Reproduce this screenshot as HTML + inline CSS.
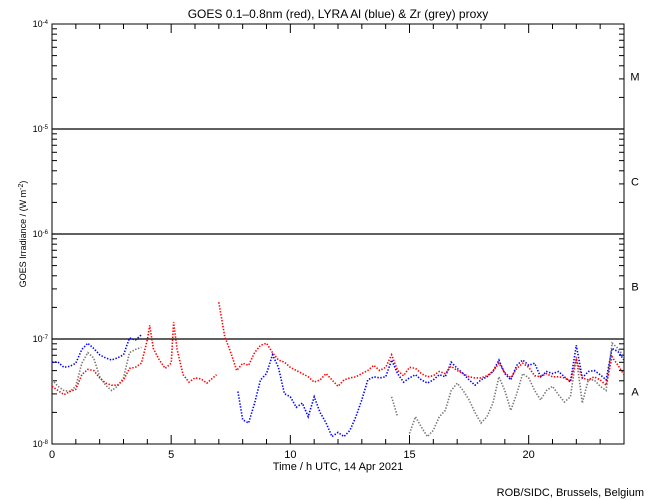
<!DOCTYPE html>
<html><head><meta charset="utf-8"><style>
body{margin:0;background:#fff}
svg{display:block;font-family:"Liberation Sans",sans-serif}
</style></head><body>
<svg id="chart" width="650" height="500" viewBox="0 0 650 500">
<rect x="0" y="0" width="650" height="500" fill="#fff"/>
<text x="338" y="18" font-size="12" text-anchor="middle">GOES 0.1–0.8nm (red), LYRA Al (blue) &amp; Zr (grey) proxy</text>
<text x="338" y="470" font-size="11" text-anchor="middle">Time / h UTC, 14 Apr 2021</text>
<text x="644" y="496" font-size="11" text-anchor="end">ROB/SIDC, Brussels, Belgium</text>
<text x="0" y="0" font-size="9" text-anchor="middle" transform="translate(26,234) rotate(-90)">GOES Irradiance / (W m<tspan baseline-shift="super" font-size="7">-2</tspan>)</text>
<g id="axes"></g>
<g id="series"></g>
</svg>
<script>
const redT=[0,0.25,0.5,0.75,1,1.25,1.5,1.75,2,2.25,2.5,2.75,3,3.25,3.5,3.75,4,4.1,4.25,4.5,4.75,5,5.1,5.25,5.5,5.75,6,6.25,6.5,6.75,6.9,6.95,7.0,7.25,7.5,7.75,8,8.25,8.5,8.75,9,9.25,9.5,9.75,10,10.25,10.5,10.75,11,11.25,11.5,11.75,12,12.25,12.5,12.75,13,13.25,13.5,13.75,14,14.25,14.5,14.75,15,15.25,15.5,15.75,16,16.25,16.5,16.75,17,17.25,17.5,17.75,18,18.25,18.5,18.75,19,19.25,19.5,19.75,20,20.25,20.5,20.75,21,21.25,21.5,21.75,22,22.25,22.5,22.75,23,23.25,23.5,23.75,24];
const redV=[-7.45,-7.49,-7.53,-7.50,-7.48,-7.34,-7.29,-7.30,-7.37,-7.42,-7.44,-7.44,-7.39,-7.28,-7.27,-7.23,-7.01,-6.87,-7.09,-7.20,-7.28,-7.23,-6.84,-7.10,-7.34,-7.41,-7.37,-7.38,-7.42,-7.37,-7.34,null,-6.65,-6.98,-7.13,-7.30,-7.23,-7.25,-7.13,-7.06,-7.04,-7.13,-7.20,-7.22,-7.27,-7.30,-7.33,-7.36,-7.41,-7.39,-7.33,-7.39,-7.45,-7.39,-7.37,-7.36,-7.33,-7.30,-7.25,-7.30,-7.27,-7.15,-7.30,-7.35,-7.27,-7.28,-7.33,-7.36,-7.35,-7.31,-7.33,-7.26,-7.30,-7.33,-7.36,-7.37,-7.37,-7.35,-7.31,-7.23,-7.32,-7.37,-7.28,-7.23,-7.27,-7.35,-7.36,-7.33,-7.36,-7.36,-7.37,-7.40,-7.20,-7.37,-7.39,-7.36,-7.39,-7.44,-7.17,-7.25,-7.34];
const blueT=[0,0.25,0.5,0.75,1,1.25,1.5,1.75,2,2.25,2.5,2.75,3,3.25,3.5,3.75,4,7.75,7.8,8,8.25,8.5,8.75,9,9.25,9.5,9.75,10,10.25,10.5,10.75,11,11.25,11.5,11.75,12,12.25,12.5,12.75,13,13.25,13.5,13.75,14,14.25,14.5,14.75,15,15.25,15.5,15.75,16,16.25,16.5,16.75,17,17.25,17.5,17.75,18,18.25,18.5,18.75,19,19.25,19.5,19.75,20,20.25,20.5,20.75,21,21.25,21.5,21.75,22,22.25,22.5,22.75,23,23.25,23.5,23.75,24];
const blueV=[-7.22,-7.22,-7.27,-7.26,-7.23,-7.10,-7.04,-7.09,-7.15,-7.18,-7.20,-7.18,-7.15,-6.99,-7.01,-6.96,null,null,-7.50,-7.77,-7.80,-7.61,-7.39,-7.33,-7.15,-7.27,-7.52,-7.55,-7.65,-7.61,-7.74,-7.55,-7.70,-7.80,-7.93,-7.89,-7.93,-7.87,-7.74,-7.58,-7.39,-7.36,-7.37,-7.36,-7.20,-7.33,-7.41,-7.37,-7.34,-7.39,-7.42,-7.39,-7.34,-7.36,-7.22,-7.28,-7.33,-7.39,-7.44,-7.39,-7.36,-7.31,-7.20,-7.33,-7.39,-7.25,-7.20,-7.25,-7.23,-7.36,-7.31,-7.33,-7.31,-7.36,-7.41,-7.06,-7.37,-7.31,-7.30,-7.34,-7.39,-7.09,-7.12,-7.20];
const greyT=[0,0.25,0.5,0.75,1,1.25,1.5,1.75,2,2.25,2.5,2.75,3,3.25,3.5,3.75,4,14,14.25,14.5,14.75,15,15.25,15.5,15.75,16,16.25,16.5,16.75,17,17.25,17.5,17.75,18,18.25,18.5,18.75,19,19.25,19.5,19.75,20,20.25,20.5,20.75,21,21.25,21.5,21.75,22,22.25,22.5,22.75,23,23.25,23.5,23.75,24];
const greyV=[-7.39,-7.45,-7.49,-7.50,-7.45,-7.23,-7.13,-7.18,-7.36,-7.44,-7.49,-7.45,-7.37,-7.13,-7.10,-7.08,null,null,-7.55,-7.74,null,-7.90,-7.74,-7.84,-7.93,-7.87,-7.74,-7.68,-7.49,-7.42,-7.49,-7.58,-7.70,-7.80,-7.74,-7.61,-7.36,-7.49,-7.68,-7.52,-7.33,-7.37,-7.49,-7.58,-7.49,-7.45,-7.53,-7.60,-7.55,-7.17,-7.61,-7.39,-7.39,-7.45,-7.49,-7.04,-7.09,-7.17];
const xTicks=[0,5,10,15,20];
const decades=[-8,-7,-6,-5,-4];
const classes=["A","B","C","M"];

const NS="http://www.w3.org/2000/svg";
const L=52,R=624,T=24,B=444;
const xs=t=>L+(R-L)*t/24;
const ys=v=>B-(B-T)*(v+8)/4;
function mk(tag,attrs,parent){const e=document.createElementNS(NS,tag);for(const k in attrs)e.setAttribute(k,attrs[k]);parent.appendChild(e);return e;}
const ax=document.getElementById('axes'), sg=document.getElementById('series');
const frame=mk('rect',{x:L,y:T,width:R-L,height:B-T,fill:'none',stroke:'#000','stroke-width':1},ax);


for(let h=0;h<=24;h++){
  const len=h%5===0?9:5;
  const t1=mk('line',{x1:xs(h),x2:xs(h),y1:B,y2:B-len,stroke:'#000'},ax);
  
  
  const t2=mk('line',{x1:xs(h),x2:xs(h),y1:T,y2:T+len,stroke:'#000'},ax);
  
  
}
xTicks.forEach(v=>{const t=mk('text',{x:xs(v),y:B+14,'font-size':11,'text-anchor':'middle'},ax);t.textContent=v;
  
  });
decades.forEach(d=>{
  const y=ys(d);
  const lab=mk('text',{x:L-4,y:y+3,'font-size':9,'text-anchor':'end'},ax);
  lab.innerHTML='10<tspan baseline-shift="super" font-size="6">'+d+'</tspan>';
  
  
  if(d>-8&&d<-4){const gl=mk('line',{x1:L,x2:R,y1:y,y2:y,stroke:'#000','stroke-width':1.3},ax);
    
    }
  if(d<-4)for(let k=2;k<=9;k++){const yy=ys(d+Math.log10(k));
    const m1=mk('line',{x1:L,x2:L+5,y1:yy,y2:yy,stroke:'#000'},ax);
    
    
    const m2=mk('line',{x1:R,x2:R-5,y1:yy,y2:yy,stroke:'#000'},ax);
    
    }
});
classes.forEach((c,i)=>{const t=mk('text',{x:635,y:ys(-7.5+i)+4,'font-size':11,'text-anchor':'middle'},ax);t.textContent=c;
  
  });
function series(ts,vs,color,name){
  let seg=[];
  const flush=()=>{if(seg.length>1){const p=mk('polyline',{points:seg.join(' '),fill:'none',stroke:color,'stroke-width':1.6,'stroke-dasharray':'1.4 1.6'},sg);
    
    }seg=[];};
  ts.forEach((t,i)=>{const v=vs[i];if(v===null||v===undefined){flush();return;}seg.push(xs(t).toFixed(1)+','+ys(Math.max(v,-8)).toFixed(1));});
  flush();
}
const clip=mk('clipPath',{id:'pc'},sg);mk('rect',{x:L,y:T,width:R-L,height:B-T},clip);
sg.setAttribute('clip-path','url(#pc)');
series(greyT,greyV,'#777','zr-proxy-series');
series(blueT,blueV,'#0000ff','al-proxy-series');
series(redT,redV,'#ff0000','goes-series');
</script>
</body></html>
